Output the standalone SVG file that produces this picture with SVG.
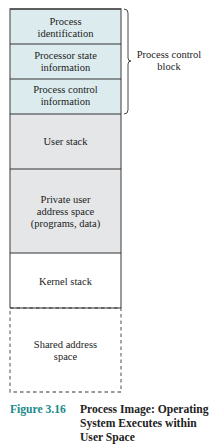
<svg xmlns="http://www.w3.org/2000/svg" width="216" height="444" viewBox="0 0 216 444">
<style>
.t{font-family:"Liberation Serif","Times New Roman",serif;font-size:10.5px;fill:#222;text-anchor:middle}
.pcb{fill:#dcecee}
.gry{fill:#e5e6e8}
.div{stroke:#333;stroke-width:1}
.side{stroke:#666;stroke-width:1.3;fill:none}
.cap{font-family:"Liberation Serif","Times New Roman",serif;font-size:11.6px;font-weight:bold}
</style>
<rect width="216" height="444" fill="#fff"/>
<g id="n-process-identification">
<rect class="pcb" x="10" y="9" width="111" height="35"/>
<text class="t" x="65.5" y="25">Process</text>
<text class="t" x="65.5" y="37">identification</text>
</g>
<g id="n-processor-state">
<rect class="pcb" x="10" y="44" width="111" height="35"/>
<text class="t" x="65.5" y="59">Processor state</text>
<text class="t" x="65.5" y="71">information</text>
</g>
<g id="n-process-control">
<rect class="pcb" x="10" y="79" width="111" height="35"/>
<text class="t" x="65.5" y="93">Process control</text>
<text class="t" x="65.5" y="105">information</text>
</g>
<g id="n-user-stack">
<rect class="gry" x="10" y="114" width="111" height="55"/>
<text class="t" x="65.5" y="145">User stack</text>
</g>
<g id="n-private">
<rect class="gry" x="10" y="169" width="111" height="84"/>
<text class="t" x="65.5" y="203">Private user</text>
<text class="t" x="65.5" y="215">address space</text>
<text class="t" x="65.5" y="227">(programs, data)</text>
</g>
<g id="n-kernel-stack">
<rect x="10" y="253" width="111" height="55" fill="#fff"/>
<text class="t" x="65.5" y="285">Kernel stack</text>
</g>
<g id="n-shared">
<rect x="10" y="308" width="111" height="84" fill="#fff" stroke="#777" stroke-width="1.3" stroke-dasharray="3.5,3"/>
<text class="t" x="65.5" y="348">Shared address</text>
<text class="t" x="65.5" y="360">space</text>
</g>
<g id="frame">
<path class="side" d="M10,308 V9 H121 V308"/>
<line class="div" x1="10" y1="9" x2="121" y2="9"/>
<line class="div" x1="10" y1="44" x2="121" y2="44"/>
<line class="div" x1="10" y1="79" x2="121" y2="79"/>
<line class="div" x1="10" y1="114" x2="121" y2="114"/>
<line class="div" x1="10" y1="169" x2="121" y2="169"/>
<line class="div" x1="10" y1="253" x2="121" y2="253"/>
<line class="div" x1="10" y1="308" x2="121" y2="308"/>
</g>
<g id="connectors">
<path d="M124,9 Q128,9 128,13 V58 Q128,61 131,61 Q128,61 128,64 V110 Q128,114 124,114" fill="none" stroke="#333" stroke-width="0.9"/>
</g>
<g id="n-pcb-label">
<text class="t" x="169" y="58">Process control</text>
<text class="t" x="169" y="70">block</text>
</g>
<g id="caption">
<text class="cap" x="10" y="413" fill="#1a8a8c">Figure 3.16</text>
<text class="cap" x="80" y="413" fill="#222">Process Image: Operating</text>
<text class="cap" x="80" y="427" fill="#222">System Executes within</text>
<text class="cap" x="80" y="441" fill="#222">User Space</text>
</g>
</svg>
